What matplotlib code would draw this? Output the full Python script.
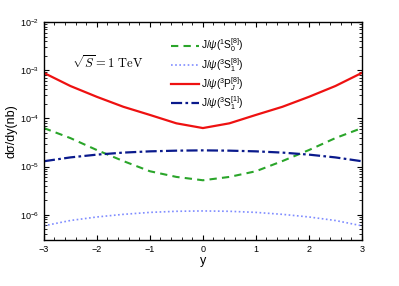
import matplotlib
matplotlib.use("Agg")
import matplotlib.pyplot as plt
import numpy as np

plt.rcParams['font.family'] = ['Liberation Sans', 'DejaVu Sans']
plt.rcParams['mathtext.fontset'] = 'custom'
plt.rcParams['mathtext.rm'] = 'Liberation Sans'
plt.rcParams['mathtext.it'] = 'Liberation Sans:italic'

y_vals = [-3, -2.5, -2, -1.5, -1, -0.5, 0, 0.5, 1, 1.5, 2, 2.5, 3]
s1s0_8 = [6.3e-5, 3.9e-5, 2.2e-5, 1.3e-5, 8.0e-6, 6.1e-6, 5.2e-6, 6.1e-6, 8.0e-6, 1.3e-5, 2.2e-5, 3.9e-5, 6.3e-5]
s3s1_8 = [5.9e-7, 7.6e-7, 9.0e-7, 1.02e-6, 1.12e-6, 1.18e-6, 1.2e-6, 1.18e-6, 1.12e-6, 1.02e-6, 9.0e-7, 7.6e-7, 5.9e-7]
p3pj_8 = [8.8e-4, 4.7e-4, 2.8e-4, 1.74e-4, 1.18e-4, 7.9e-5, 6.3e-5, 7.9e-5, 1.18e-4, 1.74e-4, 2.8e-4, 4.7e-4, 8.8e-4]
s3s1_1 = [1.29e-5, 1.55e-5, 1.77e-5, 1.95e-5, 2.07e-5, 2.14e-5, 2.17e-5, 2.14e-5, 2.07e-5, 1.95e-5, 1.77e-5, 1.55e-5, 1.29e-5]

labels = [r'J/$\psi$($^1$S$_0^{[8]}$)', r'J/$\psi$($^3$S$_1^{[8]}$)',
          r'J/$\psi$($^3$P$_J^{[8]}$)', r'J/$\psi$($^3$S$_1^{[1]}$)']

fig = plt.figure(figsize=(3.99, 2.86), dpi=100)
ax = fig.add_axes([0.110, 0.161, 0.797, 0.762])

ax.plot(y_vals, s1s0_8, color='#2aa52a', ls=(0, (3.5, 2.5)), lw=1.5, label=labels[0])
ax.plot(y_vals, s3s1_8, color='#7f8cff', ls=(0, (1, 1.5)), lw=1.2, label=labels[1])
ax.plot(y_vals, p3pj_8, color='#ee1111', ls='-', lw=1.6, label=labels[2])
ax.plot(y_vals, s3s1_1, color='#0a1a8c', ls=(0, (5, 1.5, 1.2, 1.5)), lw=1.6, label=labels[3])

ax.set_yscale('log')
ax.set_xlim(-3, 3)
ax.set_ylim(3e-7, 1e-2)
ax.set_xticks([-3, -2, -1, 0, 1, 2, 3])
ax.set_xticklabels(['\u22123', '\u22122', '\u22121', '0', '1', '2', '3'])
ax.xaxis.set_minor_locator(matplotlib.ticker.MultipleLocator(0.2))
ax.tick_params(which='both', direction='in', top=True, right=True, labelsize=6.5)
ax.tick_params(which='major', length=3.5)
ax.tick_params(which='minor', length=2)
for s in ax.spines.values():
    s.set_linewidth(1.0)

ax.set_xlabel('y', fontsize=9, labelpad=1)
ax.set_ylabel('d\u03c3/dy(nb)', fontsize=9, labelpad=2)

ax.text(0.088, 0.79, r'$\sqrt{S}=1\ \mathrm{TeV}$', transform=ax.transAxes,
        fontsize=9, family='DejaVu Serif', math_fontfamily='cm', va='baseline')

ax.legend(loc='upper left', bbox_to_anchor=(0.37, 0.975), frameon=False,
          fontsize=7.3, handlelength=2.8, handletextpad=0.2, labelspacing=0.12)

fig.savefig('out.png', dpi=100)
